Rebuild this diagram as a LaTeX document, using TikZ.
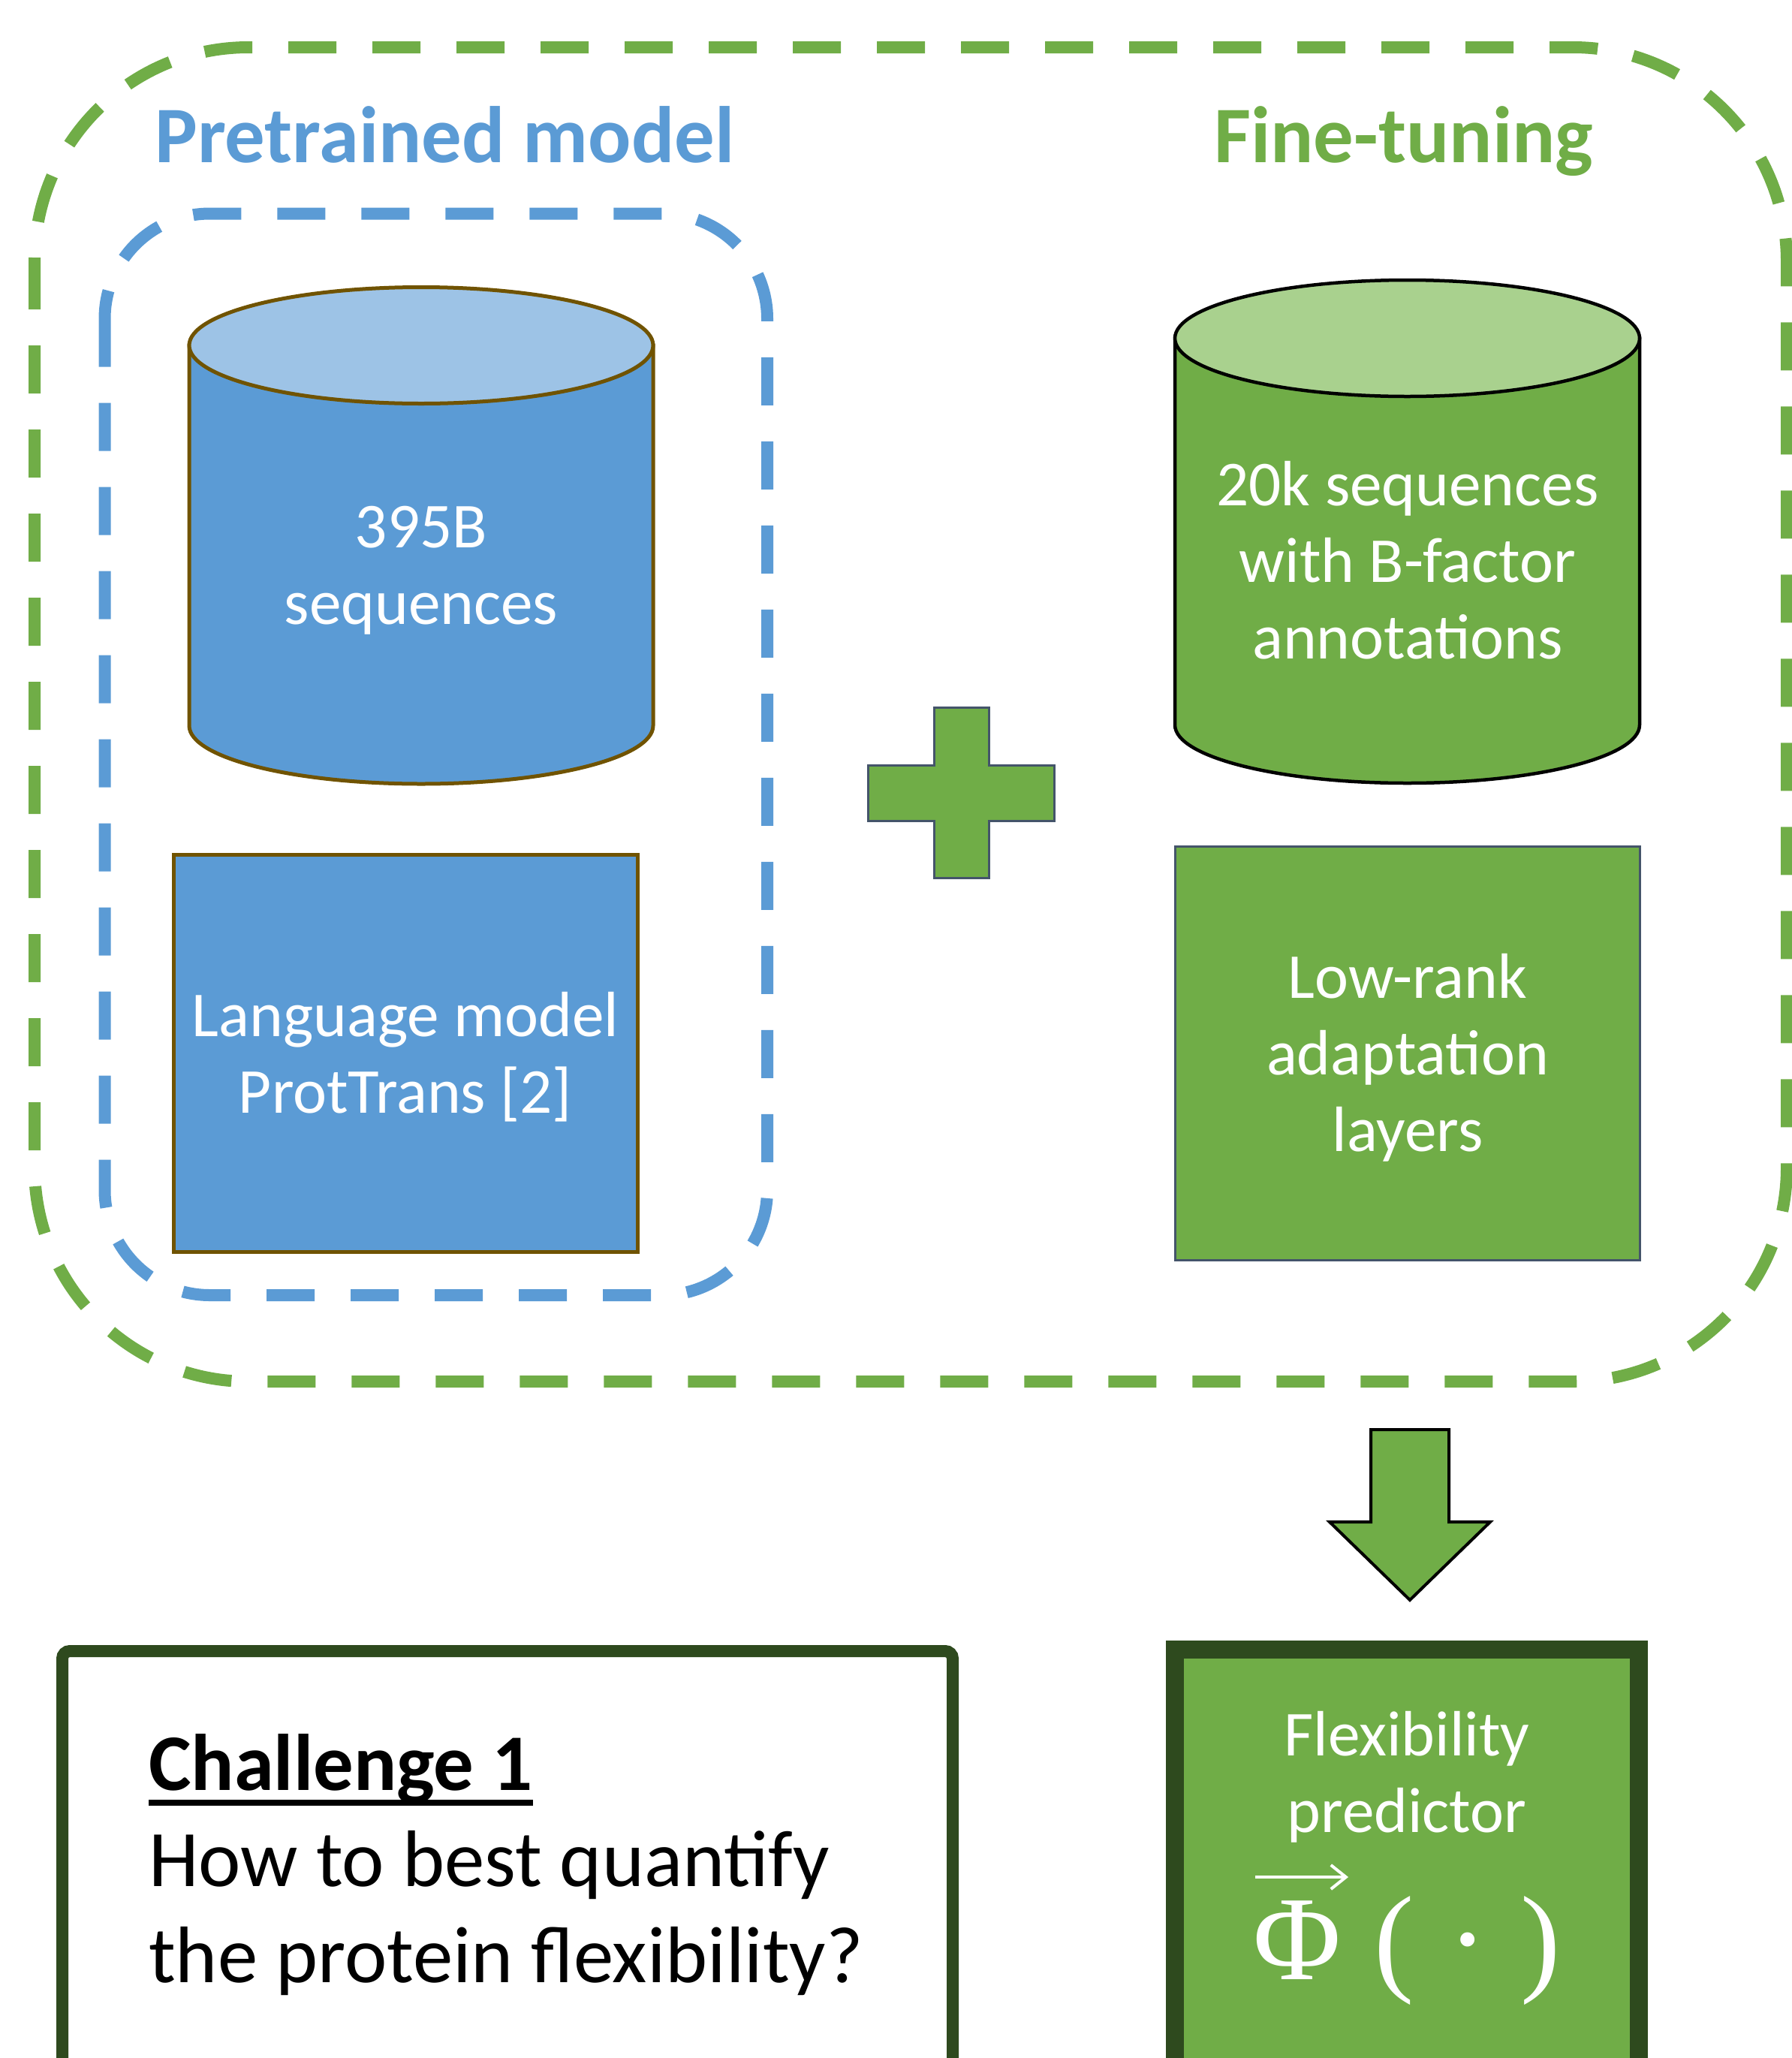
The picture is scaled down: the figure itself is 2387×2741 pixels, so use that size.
\documentclass[tikz,border=0pt]{standalone}
\usepackage{fontspec}
\setmainfont{Carlito}
\newfontfamily\symbolserif{Liberation Serif}
\usetikzlibrary{arrows.meta}
\definecolor{ptblue}{HTML}{5B9BD5}
\definecolor{ptbluelight}{HTML}{9DC3E6}
\definecolor{ftgreen}{HTML}{70AD47}
\definecolor{ftgreenlight}{HTML}{A9D18E}
\definecolor{darkframe}{HTML}{2E4A1E}
\definecolor{brownline}{HTML}{705300}
\definecolor{slateline}{HTML}{44546A}
% underlined heading with a rule placed just under the descenders
\newcommand{\headline}[1]{\setbox0=\hbox{#1}\rlap{\rule[-21pt]{\wd0}{8pt}}\box0}

\begin{document}
\begin{tikzpicture}[x=1pt,y=1pt,
  groupline/.style={line width=16pt, dash pattern=on 64pt off 48pt},
  bodytext/.style={text=white, font=\fontsize{85.3}{102}\selectfont, align=center, inner sep=0pt},
  headtext/.style={font=\bfseries\fontsize{106.8}{128}\selectfont, inner sep=0pt, anchor=base west},
]
\useasboundingbox (0,0) rectangle (2387,-2741);

% dashed group frames
\draw[groupline, ftgreen, rounded corners=285pt] (46,-63) rectangle (2380,-1840);
\draw[groupline, ptblue, rounded corners=140pt] (139.5,-284.5) rectangle (1022,-1725);

% titles
\node[headtext, text=ptblue] (pretitle) at (206,-216) {Pretrained model};
\node[headtext, text=ftgreen] (fttitle) at (1617,-216) {Fine-tuning};

% pretraining data (blue can)
\draw[brownline, line width=5pt, fill=ptblue]
  (252,-460) -- (252,-966.5)
  arc[start angle=180, end angle=360, x radius=309pt, y radius=77.5pt]
  -- (870,-460) -- cycle;
\draw[brownline, line width=5pt, fill=ptbluelight] (561,-460) ellipse [x radius=309pt, y radius=77.5pt];
\node[bodytext] (predata) at (561,-759.6) {\strut 395B\\sequences\strut};

% language model
\draw[brownline, line width=5pt, fill=ptblue] (231,-1138) rectangle (849,-1667);
\node[bodytext] (lm) at (540,-1411.1) {\strut Language model\\ProtTrans [2]\strut};

% plus sign
\draw[slateline, line width=3pt, fill=ftgreen]
  (1244,-942) -- (1317,-942) -- (1317,-1019) -- (1404,-1019) -- (1404,-1093)
  -- (1317,-1093) -- (1317,-1169) -- (1244,-1169) -- (1244,-1093) -- (1156,-1093)
  -- (1156,-1019) -- (1244,-1019) -- cycle;

% fine-tuning data (green can)
\draw[black, line width=4.5pt, fill=ftgreen]
  (1565,-450.5) -- (1565,-965.5)
  arc[start angle=180, end angle=360, x radius=309.5pt, y radius=77.5pt]
  -- (2184,-450.5) -- cycle;
\draw[black, line width=4.5pt, fill=ftgreenlight] (1874.5,-450.5) ellipse [x radius=309.5pt, y radius=77.5pt];
\node[bodytext] (ftdata) at (1875,-755.1) {\strut 20k sequences\\with B-factor\\annotations\strut};

% low-rank adaptation
\draw[slateline, line width=3pt, fill=ftgreen] (1565,-1127) rectangle (2184,-1678);
\node[bodytext] (lora) at (1875,-1411.1) {\strut Low-rank\\adaptation\\layers\strut};

% block arrow towards the predictor
\draw[black, line width=4pt, fill=ftgreen, line join=miter]
  (1826,-1904) -- (1930,-1904) -- (1930,-2027) -- (1985,-2027) -- (1878,-2131)
  -- (1771,-2027) -- (1826,-2027) -- cycle;

% flexibility predictor
\draw[darkframe, line width=24pt, fill=ftgreen] (1565,-2197) rectangle (2183,-2800);
\node[bodytext] (flex) at (1874,-2369.1) {\strut Flexibility\\predictor\strut};
\node[text=white, inner sep=0pt, anchor=base, font=\symbolserif\fontsize{160}{190}\selectfont] (phi) at (1874,-2636)
  {Φ\hspace{44pt}(\hspace{45pt}·\hspace{44pt})};
\coordinate (vecstart) at (1672,-2500);
\coordinate (vecend) at (1796,-2500);
\draw[white, line width=4pt, -{Straight Barb[length=20pt, width=32pt, line width=4pt]}] (vecstart) -- (vecend);

% challenge box
\draw[darkframe, line width=16pt, fill=white, rounded corners=10pt] (83,-2800) -- (83,-2199) -- (1269,-2199) -- (1269,-2800);
\node[inner sep=0pt, anchor=west, align=left, font=\fontsize{106.8}{128}\selectfont] (challenge) at (198,-2486.4)
  {\strut\headline{\bfseries Challenge 1}\\How to best quantify\\the protein flexibility?\strut};
\end{tikzpicture}
\end{document}
